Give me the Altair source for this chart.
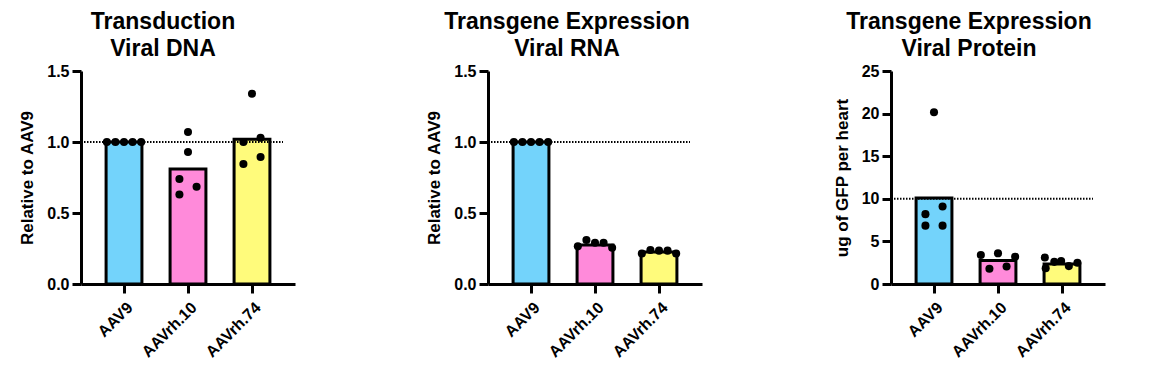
import altair as alt
import pandas as pd

FONT = "Liberation Sans"

groups = ["AAV9", "AAVrh.10", "AAVrh.74"]
colors = ["#73D3FB", "#FF8ADA", "#FFFB7B"]

# Panel 1: Transduction / Viral DNA
dna_bars = [1.0, 0.81, 1.02]
dna_pt_group = ["AAV9"] * 5 + ["AAVrh.10"] * 5 + ["AAVrh.74"] * 5
dna_pt_value = [1.0, 1.0, 1.0, 1.0, 1.0,
                1.07, 0.93, 0.74, 0.63, 0.685,
                1.34, 1.0, 1.03, 0.845, 0.895]
dna_pt_offset = [-2, -1, 0, 1, 2,
                 0, 0, -1, -1, 1,
                 0, -1, 1, -1, 1]

# Panel 2: Transgene Expression / Viral RNA
rna_bars = [1.0, 0.275, 0.225]
rna_pt_group = ["AAV9"] * 5 + ["AAVrh.10"] * 5 + ["AAVrh.74"] * 5
rna_pt_value = [1.0, 1.0, 1.0, 1.0, 1.0,
                0.265, 0.31, 0.29, 0.29, 0.255,
                0.215, 0.24, 0.235, 0.235, 0.215]
rna_pt_offset = [-2, -1, 0, 1, 2,
                 -2, -1, 0, 1, 2,
                 -2, -1, 0, 1, 2]

# Panel 3: Transgene Expression / Viral Protein
prot_bars = [10.1, 2.75, 2.35]
prot_pt_group = ["AAV9"] * 5 + ["AAVrh.10"] * 5 + ["AAVrh.74"] * 6
prot_pt_value = [20.15, 8.2, 9.1, 6.85, 6.85,
                 3.4, 1.8, 3.6, 2.05, 3.2,
                 3.1, 1.85, 2.6, 2.7, 2.1, 2.5]
prot_pt_offset = [0, -1, 1, -1, 1,
                  -2, -1, 0, 1, 2,
                  -2, -1.9, -0.9, -0.1, 0.8, 1.8]

W, H = 214, 213
HALF_BAR = 0.28          # half bar width, in category units
JITTER = 0.134           # one jitter step, in category units
X_DOMAIN = [-0.672, 2.672]

label_expr = "[" + ",".join("'%s'" % g for g in groups) + "][datum.value]"


def panel(title_lines, ytitle, bars, pg, pv, po, ymax, yticks, yfmt, ref, dx):
    bar_df = pd.DataFrame({"group": groups, "idx": list(range(len(groups))),
                           "value": bars})
    pt_df = pd.DataFrame({"group": pg, "idx": [groups.index(g) for g in pg],
                          "value": pv, "off": po})
    ref_df = pd.DataFrame({"ref": [ref]})

    xscale = alt.Scale(domain=X_DOMAIN, nice=False, zero=False, padding=0)
    xaxis = alt.Axis(title=None, values=list(range(len(groups))),
                     labelExpr=label_expr, labelAngle=-45, labelPadding=6,
                     labelFlush=False, labelOverlap=False, grid=False)
    yscale = alt.Scale(domain=[0, ymax], nice=False, zero=True, padding=0)
    y = alt.Y(
        "value:Q", scale=yscale,
        axis=alt.Axis(values=yticks, format=yfmt, title=ytitle, grid=False,
                      titlePadding=10),
    )
    bar = alt.Chart(bar_df).transform_calculate(
        x0="datum.idx - %f" % HALF_BAR, x1="datum.idx + %f" % HALF_BAR
    ).mark_bar(stroke="black", strokeWidth=3).encode(
        x=alt.X("x0:Q", scale=xscale, axis=xaxis),
        x2="x1:Q",
        y=y,
        y2=alt.datum(0),
        color=alt.Color("group:N", scale=alt.Scale(domain=groups, range=colors),
                        legend=None),
    )
    rule = alt.Chart(ref_df).mark_rule(
        strokeDash=[1.5, 1.5], strokeWidth=2, color="black"
    ).encode(y="ref:Q", x=alt.value(0), x2=alt.value(W - 12))
    pts = alt.Chart(pt_df).transform_calculate(
        xp="datum.idx + datum.off * %f" % JITTER
    ).mark_circle(size=65, color="black", opacity=1).encode(
        x=alt.X("xp:Q", scale=xscale),
        y="value:Q",
    )
    return alt.layer(bar, rule, pts).properties(
        width=W, height=H,
        title=alt.Title(title_lines, fontSize=23, font=FONT, fontWeight="bold",
                        color="black", lineHeight=27, anchor="middle",
                        frame="group", dx=dx, offset=2),
    )


p1 = panel(["Transduction", "Viral DNA"], "Relative to AAV9", dna_bars,
           dna_pt_group, dna_pt_value, dna_pt_offset, 1.5,
           [0, 0.5, 1.0, 1.5], ".1f", 1.0, -25)
p2 = panel(["Transgene Expression", "Viral RNA"], "Relative to AAV9", rna_bars,
           rna_pt_group, rna_pt_value, rna_pt_offset, 1.5,
           [0, 0.5, 1.0, 1.5], ".1f", 1.0, -28)
p3 = panel(["Transgene Expression", "Viral Protein"], "ug of GFP per heart",
           prot_bars, prot_pt_group, prot_pt_value, prot_pt_offset, 25,
           [0, 5, 10, 15, 20, 25], "d", 10, -29)

chart = alt.hconcat(p1, p2, p3, spacing=129).properties(
    padding={"left": 10, "top": 2, "right": 5, "bottom": 5}
).configure_view(stroke="transparent").configure_axis(
    domainColor="black", domainWidth=3, tickColor="black", tickWidth=3,
    tickSize=9, labelFont=FONT, labelFontSize=16, labelFontWeight="bold",
    labelColor="black", titleFont=FONT, titleFontSize=17,
    titleFontWeight="bold", titleColor="black", labelPadding=3,
)

chart.save("out.html", embed_options={"renderer": "svg", "actions": False})
